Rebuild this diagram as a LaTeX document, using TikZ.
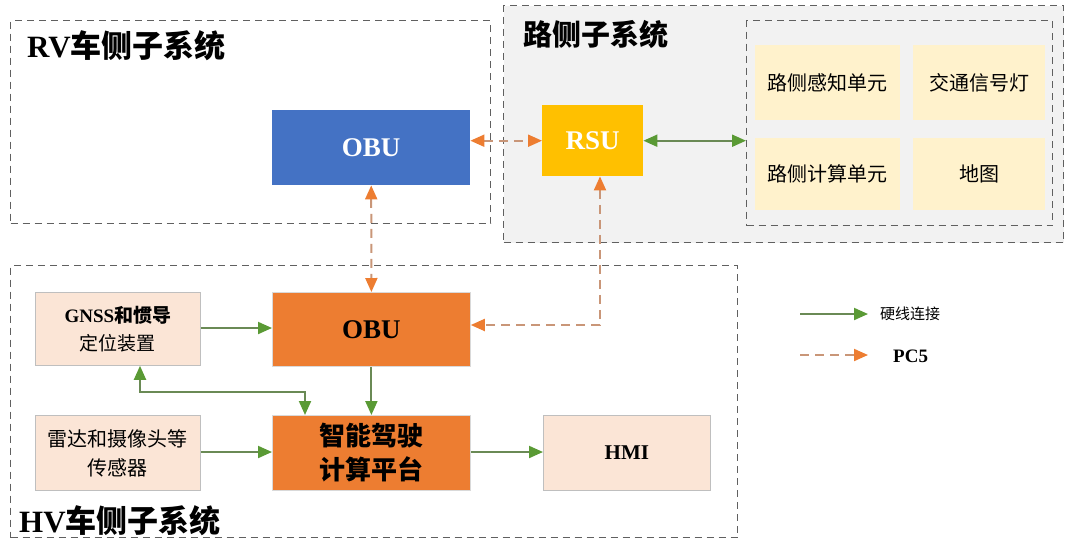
\documentclass[tikz,border=0pt]{standalone}
\usepackage{fontspec}
\setmainfont{Liberation Serif}
\newfontfamily\cjk{Noto Sans CJK SC}
\usetikzlibrary{arrows.meta}
\definecolor{grn}{HTML}{6A8A55}
\definecolor{grntip}{HTML}{5A9A35}
\definecolor{orl}{HTML}{C99678}
\definecolor{ortip}{HTML}{ED7D31}
\definecolor{obublue}{HTML}{4472C4}
\definecolor{obuor}{HTML}{ED7D31}
\definecolor{rsuy}{HTML}{FFC000}
\definecolor{cellY}{HTML}{FFF2CC}
\definecolor{peach}{HTML}{FBE5D6}
\definecolor{roadbg}{HTML}{F2F2F2}
\definecolor{dgray}{HTML}{606060}
\tikzset{
  grp/.style={draw=dgray, dash pattern=on 7pt off 5pt, line width=1.2pt, anchor=north west, inner sep=0pt},
  hard/.style={draw=grn, line width=2pt, -{Triangle[length=14pt,width=12pt,color=grntip]}},
  hardb/.style={draw=grn, line width=2pt, {Triangle[length=14pt,width=12pt,color=grntip]}-{Triangle[length=14pt,width=12pt,color=grntip]}},
  pc/.style={draw=orl, line width=2pt, dash pattern=on 9pt off 6pt, -{Triangle[length=14pt,width=12pt,color=ortip]}},
  pcb/.style={draw=orl, line width=2pt, dash pattern=on 9pt off 6pt, {Triangle[length=14pt,width=12pt,color=ortip]}-{Triangle[length=14pt,width=12pt,color=ortip]}},
  box/.style={anchor=north west, inner sep=0pt, align=center},
  lbl/.style={align=center, inner sep=0pt},
}
\begin{document}
\begin{tikzpicture}[x=1pt,y=-1pt]
\useasboundingbox (0,0) rectangle (1065,539);
% groups
\node[grp, minimum width=480pt, minimum height=203pt] (rv) at (10,20) {};
\node[grp, fill=roadbg, minimum width=560pt, minimum height=237pt] (road) at (503,5) {};
\node[grp, minimum width=306pt, minimum height=205pt] (inner) at (746,20) {};
\node[grp, minimum width=727pt, minimum height=272pt] (hv) at (10,265) {};
% titles
\node[anchor=west, inner sep=0pt, font=\fontsize{31}{34}\selectfont\bfseries] (rvt) at (27,46) {RV{\cjk 车侧子系统}};
\node[anchor=west, inner sep=0pt, font=\fontsize{29}{34}\selectfont\cjk\bfseries] (roadt) at (523,34) {路侧子系统};
\node[anchor=west, inner sep=0pt, font=\fontsize{31}{34}\selectfont\bfseries] (hvt) at (19,521) {HV{\cjk 车侧子系统}};
% RV
\node[box, fill=obublue, minimum width=198pt, minimum height=75pt] (obu1) at (272,110) {};
\node[lbl, text=white, font=\fontsize{27}{30}\selectfont\bfseries] (obu1t) at (obu1) {OBU};
% road
\node[box, fill=rsuy, minimum width=101pt, minimum height=71pt] (rsu) at (542,105) {};
\node[lbl, text=white, font=\fontsize{27}{30}\selectfont\bfseries] (rsut) at (rsu) {RSU};
\node[box, fill=cellY, minimum width=145pt, minimum height=75pt] (c1) at (755,45) {};
\node[lbl, font=\fontsize{20}{24}\selectfont\cjk] (c1t) at (c1) {路侧感知单元};
\node[box, fill=cellY, minimum width=132pt, minimum height=75pt] (c2) at (913,45) {};
\node[lbl, font=\fontsize{20}{24}\selectfont\cjk] (c2t) at (c2) {交通信号灯};
\node[box, fill=cellY, minimum width=145pt, minimum height=72pt] (c3) at (755,138) {};
\node[lbl, font=\fontsize{20}{24}\selectfont\cjk] (c3t) at (c3) {路侧计算单元};
\node[box, fill=cellY, minimum width=132pt, minimum height=72pt] (c4) at (913,138) {};
\node[lbl, font=\fontsize{20}{24}\selectfont\cjk] (c4t) at (c4) {地图};
% HV
\node[box, fill=peach, draw=black!25, line width=0.8pt, minimum width=165pt, minimum height=73pt] (gnss) at (35,292) {};
\node[lbl, font=\fontsize{19}{28}\selectfont\bfseries] (gnsst) at (gnss) {GNSS{\cjk 和惯导}\\{\cjk\mdseries 定位装置}};
\node[box, fill=obuor, draw=black!15, line width=0.8pt, minimum width=198pt, minimum height=74pt] (obu2) at (272,292) {};
\node[lbl, font=\fontsize{27}{30}\selectfont\bfseries] (obu2t) at (obu2) {OBU};
\node[box, fill=peach, draw=black!25, line width=0.8pt, minimum width=165pt, minimum height=75pt] (radar) at (35,415) {};
\node[lbl, font=\fontsize{20}{29}\selectfont\cjk] (radart) at (radar) {雷达和摄像头等\\传感器};
\node[box, fill=obuor, draw=black!15, line width=0.8pt, minimum width=198pt, minimum height=75pt] (plat) at (272,415) {};
\node[lbl, font=\fontsize{26}{34}\selectfont\cjk\bfseries] (platt) at (plat) {智能驾驶\\计算平台};
\node[box, fill=peach, draw=black!25, line width=0.8pt, minimum width=167pt, minimum height=75pt] (hmi) at (543,415) {};
\node[lbl, font=\fontsize{21}{24}\selectfont\bfseries] (hmit) at (hmi) {HMI};
% connectors
\draw[pcb] (obu1.east |- rsu.west) -- (rsu.west);
\draw[hardb] (rsu.east) -- (inner.west |- rsu.east);
\draw[pcb] (obu1.south) -- (obu2.north);
\coordinate (k1) at (600,325);
\draw[pcb] (rsu.south -| k1) -- (k1) -- (obu2.east |- k1);
\draw[hard] (gnss.east |- 0,328) -- (obu2.west |- 0,328);
\draw[hard] (obu2.south) -- (plat.north);
\coordinate (k2) at (140,392);
\coordinate (k3) at (305,392);
\draw[hardb] (gnss.south -| k2) -- (k2) -- (k3) -- (plat.north -| k3);
\draw[hard] (radar.east |- 0,452) -- (plat.west |- 0,452);
\draw[hard] (plat.east |- 0,452) -- (hmi.west |- 0,452);
% legend
\coordinate (l1a) at (800,314);
\coordinate (l1b) at (868,314);
\coordinate (l2a) at (800,355);
\coordinate (l2b) at (868,355);
\draw[hard] (l1a) -- (l1b);
\draw[pc] (l2a) -- (l2b);
\node[anchor=west, inner sep=0pt, font=\fontsize{15}{18}\selectfont\cjk] (lg1) at (880,314) {硬线连接};
\node[anchor=west, inner sep=0pt, font=\fontsize{19}{22}\selectfont\bfseries] (lg2) at (893,356) {PC5};
\end{tikzpicture}
\end{document}
